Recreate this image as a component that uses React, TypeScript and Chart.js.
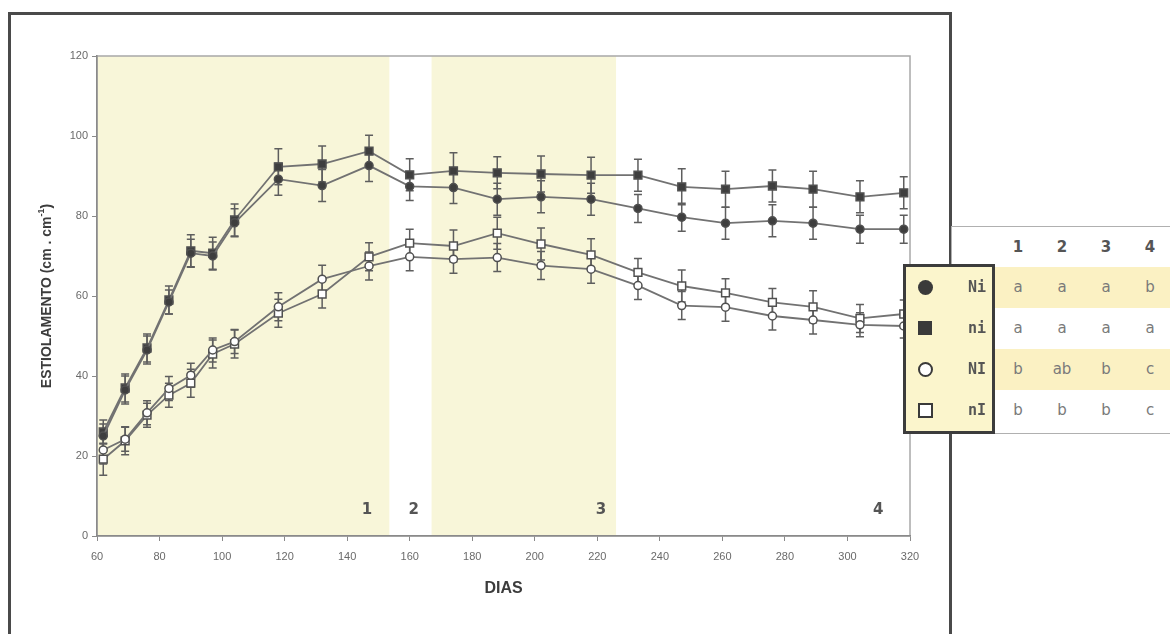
import React, { useEffect, useRef } from 'react';
import { Chart, registerables } from 'chart.js';
Chart.register(...registerables);

const days = [62, 69, 76, 83, 90, 97, 104, 118, 132, 147, 160, 174, 188, 202, 218, 233, 247, 261, 276, 289, 304, 318];
const niValues = [26, 37, 47, 59, 71.3, 70.7, 79, 92.3, 93, 96.2, 90.3, 91.3, 90.8, 90.5, 90.2, 90.2, 87.3, 86.7, 87.5, 86.7, 84.8, 85.8];
const niErrors = [3, 3.5, 3.5, 3.5, 4, 4, 4, 4.5, 4.5, 4, 4, 4.5, 4, 4.5, 4.5, 4, 4.5, 4.5, 4, 4.5, 4, 4];
const NiValues = [25, 36.5, 46.5, 58.5, 70.7, 70, 78.3, 89.2, 87.6, 92.6, 87.4, 87.1, 84.2, 84.8, 84.2, 81.9, 79.7, 78.2, 78.8, 78.2, 76.7, 76.7];
const NiErrors = [3, 3.5, 3.5, 3, 3.5, 3.5, 3.5, 4, 4, 4, 3.5, 4, 4, 4, 4, 3.5, 3.5, 4, 4, 4, 3.5, 3.5];
const NIValues = [21.5, 24.2, 30.8, 36.9, 40.2, 46.5, 48.6, 57.3, 64.2, 67.5, 69.8, 69.2, 69.6, 67.6, 66.7, 62.6, 57.6, 57.2, 55, 54, 52.8, 52.5];
const NIErrors = [3.5, 3, 3, 3, 3, 3, 3, 3.5, 3.5, 3.5, 3.5, 3.5, 3.5, 3.5, 3.5, 3.5, 3.5, 3.5, 3.5, 3.5, 3, 3];
const nIValues = [19.2, 23.8, 30.2, 35.2, 38.2, 45.5, 48, 55.7, 60.5, 69.8, 73.2, 72.5, 75.7, 73, 70.3, 65.9, 62.5, 60.8, 58.4, 57.3, 54.4, 55.5];
const nIErrors = [4, 3.5, 3, 3, 3.5, 3.5, 3.5, 3.5, 3.5, 3.5, 3.5, 4, 4, 4, 4, 3.5, 4, 3.5, 3.5, 4, 3.5, 3.5];

const shadeRanges = [[60, 153.5], [167, 226]];
const periodLabels = ['1', '2', '3', '4'];
const periodLabelDays = [146.3, 161.3, 221.2, 309.8];

const tableColumns = ['1', '2', '3', '4'];
const legendRows = [
  { name: 'Ni', marker: 'circleFilled', letters: ['a', 'a', 'a', 'b'], shaded: true },
  { name: 'ni', marker: 'squareFilled', letters: ['a', 'a', 'a', 'a'], shaded: false },
  { name: 'NI', marker: 'circleOpen', letters: ['b', 'ab', 'b', 'c'], shaded: true },
  { name: 'nI', marker: 'squareOpen', letters: ['b', 'b', 'b', 'c'], shaded: false },
];

const LINE = '#727272';
const DARK = '#3e3e3e';

const series = [
  { label: 'Ni', values: NiValues, errors: NiErrors, style: 'circle', fill: DARK, radius: 4 },
  { label: 'ni', values: niValues, errors: niErrors, style: 'rect', fill: DARK, radius: 5.5 },
  { label: 'NI', values: NIValues, errors: NIErrors, style: 'circle', fill: '#ffffff', radius: 4 },
  { label: 'nI', values: nIValues, errors: nIErrors, style: 'rect', fill: '#ffffff', radius: 5.5 },
];

const decorPlugin = {
  id: 'decor',
  beforeDraw(chart: any) {
    const { ctx, chartArea, scales } = chart;
    const x = scales.x;
    ctx.save();
    ctx.fillStyle = '#f8f6d9';
    shadeRanges.forEach(([a, b]) => {
      const x0 = x.getPixelForValue(a);
      const x1 = x.getPixelForValue(b);
      ctx.fillRect(x0, chartArea.top, x1 - x0, chartArea.bottom - chartArea.top);
    });
    ctx.strokeStyle = '#a8a8a8';
    ctx.lineWidth = 1.5;
    ctx.strokeRect(chartArea.left, chartArea.top, chartArea.right - chartArea.left, chartArea.bottom - chartArea.top);
    ctx.restore();
  },
  beforeDatasetsDraw(chart: any) {
    const { ctx, scales } = chart;
    const y = scales.y;
    ctx.save();
    ctx.strokeStyle = '#5e5e5e';
    ctx.lineWidth = 1.5;
    series.forEach((s, i) => {
      const meta = chart.getDatasetMeta(i);
      meta.data.forEach((pt: any, j: number) => {
        const px = pt.x;
        const yt = y.getPixelForValue(s.values[j] + s.errors[j]);
        const yb = y.getPixelForValue(s.values[j] - s.errors[j]);
        ctx.beginPath();
        ctx.moveTo(px, yt); ctx.lineTo(px, yb);
        ctx.moveTo(px - 4, yt); ctx.lineTo(px + 4, yt);
        ctx.moveTo(px - 4, yb); ctx.lineTo(px + 4, yb);
        ctx.stroke();
      });
    });
    ctx.restore();
  },
  afterDraw(chart: any) {
    const { ctx, chartArea, scales } = chart;
    const x = scales.x;
    ctx.save();
    ctx.fillStyle = '#555555';
    ctx.font = 'bold 15px "DejaVu Sans"';
    ctx.textAlign = 'center';
    ctx.textBaseline = 'middle';
    periodLabels.forEach((t, i) => {
      ctx.fillText(t, x.getPixelForValue(periodLabelDays[i]), 510);
    });
    ctx.fillStyle = '#3c3c3c';
    ctx.font = 'bold 16px "Liberation Sans Narrow", "Liberation Sans", Arial';
    ctx.fillText('DIAS', (chartArea.left + chartArea.right) / 2, 589);
    const main = 'ESTIOLAMENTO (cm . cm';
    const sup = '-1';
    const tail = ')';
    const f1 = 'bold 14px "Liberation Sans", Arial';
    const f2 = 'bold 9px "Liberation Sans", Arial';
    ctx.font = f1;
    const w1 = ctx.measureText(main).width;
    const w3 = ctx.measureText(tail).width;
    ctx.font = f2;
    const w2 = ctx.measureText(sup).width;
    const total = w1 + w2 + w3;
    ctx.translate(47, (chartArea.top + chartArea.bottom) / 2);
    ctx.rotate(-Math.PI / 2);
    ctx.textAlign = 'left';
    ctx.textBaseline = 'middle';
    let cx = -total / 2;
    ctx.font = f1;
    ctx.fillText(main, cx, 0);
    cx += w1;
    ctx.font = f2;
    ctx.fillText(sup, cx, -5);
    cx += w2;
    ctx.font = f1;
    ctx.fillText(tail, cx, 0);
    ctx.restore();
  },
};

function Marker({ kind }: { kind: string }) {
  const base: React.CSSProperties = { position: 'absolute', left: 12, top: 13, boxSizing: 'border-box' };
  if (kind === 'circleFilled') return <div style={{ ...base, width: 15, height: 15, borderRadius: '50%', background: '#3a3a3a' }} />;
  if (kind === 'squareFilled') return <div style={{ ...base, width: 14, height: 14, background: '#3a3a3a' }} />;
  if (kind === 'circleOpen') return <div style={{ ...base, width: 15, height: 15, borderRadius: '50%', border: '2.5px solid #3a3a3a', background: '#fff' }} />;
  return <div style={{ ...base, width: 15, height: 15, border: '2px solid #3a3a3a', background: '#fff' }} />;
}

export default function App() {
  const ref = useRef<HTMLCanvasElement>(null);
  useEffect(() => {
    const chart = new Chart(ref.current as HTMLCanvasElement, {
      type: 'scatter',
      data: {
        datasets: series.map((s) => ({
          label: s.label,
          data: days.map((d, i) => ({ x: d, y: s.values[i] })),
          showLine: true,
          borderColor: LINE,
          borderWidth: 1.8,
          pointStyle: s.style,
          pointRadius: s.radius,
          pointBackgroundColor: s.fill,
          pointBorderColor: '#505050',
          pointBorderWidth: 1.5,
        })),
      },
      options: {
        responsive: false,
        animation: false,
        devicePixelRatio: 1,
        layout: { padding: { top: 56, right: 260, left: 0, bottom: 0 } },
        plugins: { legend: { display: false }, tooltip: { enabled: false } },
        scales: {
          x: {
            type: 'linear',
            min: 60,
            max: 320,
            afterFit: (scale: any) => { scale.height = 98; },
            ticks: { stepSize: 20, color: '#6a6a6a', padding: 9, font: { family: '"Liberation Sans Narrow", "Liberation Sans", Arial', size: 11 } },
            grid: { drawOnChartArea: false, drawTicks: true, tickLength: 5, color: '#8a8a8a' },
            border: { display: true, color: '#8a8a8a', width: 1.5 },
          },
          y: {
            min: 0,
            max: 120,
            afterFit: (scale: any) => { scale.width = 97; },
            ticks: { stepSize: 20, color: '#6a6a6a', padding: 4, font: { family: '"Liberation Sans Narrow", "Liberation Sans", Arial', size: 11 } },
            grid: { drawOnChartArea: false, drawTicks: true, tickLength: 5, color: '#8a8a8a' },
            border: { display: true, color: '#8a8a8a', width: 1.5 },
          },
        },
      },
      plugins: [decorPlugin],
    } as any);
    return () => chart.destroy();
  }, []);

  const colCenters = tableColumns.map((_, i) => 996 + 44 * i + 22);

  return (
    <div style={{ position: 'fixed', left: 0, top: 0, width: 1170, height: 634, overflow: 'hidden', background: '#fff' }}>
      <div style={{ position: 'absolute', left: 8, top: 12, width: 938, height: 700, border: '3px solid #4a4a4a' }} />
      <canvas ref={ref} width={1170} height={634} style={{ position: 'absolute', left: 0, top: 0 }} />
      <div style={{ position: 'absolute', left: 951, top: 226, width: 230, height: 206, borderTop: '1.5px solid #b0b0b0', borderBottom: '1.5px solid #b0b0b0', borderLeft: '1.5px solid #b0b0b0', background: '#fff' }} />
      {tableColumns.map((c, i) => (
        <div key={'h' + c} style={{ position: 'absolute', left: colCenters[i] - 22, top: 227, width: 44, height: 40, lineHeight: '40px', textAlign: 'center', fontFamily: '"DejaVu Sans", sans-serif', fontWeight: 'bold', fontSize: 15, color: '#555' }}>{c}</div>
      ))}
      {legendRows.map((r, ri) => (
        <React.Fragment key={r.name}>
          <div style={{ position: 'absolute', left: 995, top: 267 + 41 * ri, width: 180, height: 41, background: r.shaded ? '#fbf1c3' : '#ffffff' }} />
          {r.letters.map((l, i) => (
            <div key={i} style={{ position: 'absolute', left: colCenters[i] - 22, top: 267 + 41 * ri, width: 44, height: 41, lineHeight: '41px', textAlign: 'center', fontFamily: '"DejaVu Sans", sans-serif', fontSize: 15, color: '#7a7a7a' }}>{l}</div>
          ))}
        </React.Fragment>
      ))}
      <div style={{ position: 'absolute', left: 903, top: 264, width: 86, height: 164, border: '3px solid #3c3c3c', background: '#fbf5cc' }}>
        {legendRows.map((r, ri) => (
          <div key={r.name} style={{ position: 'absolute', left: 0, top: 41 * ri, width: 86, height: 41 }}>
            <Marker kind={r.marker} />
            <div style={{ position: 'absolute', right: 6, top: 0, height: 41, lineHeight: '41px', fontFamily: '"DejaVu Sans Mono", monospace', fontWeight: 'bold', fontSize: 15, color: '#555' }}>{r.name}</div>
          </div>
        ))}
      </div>
    </div>
  );
}
